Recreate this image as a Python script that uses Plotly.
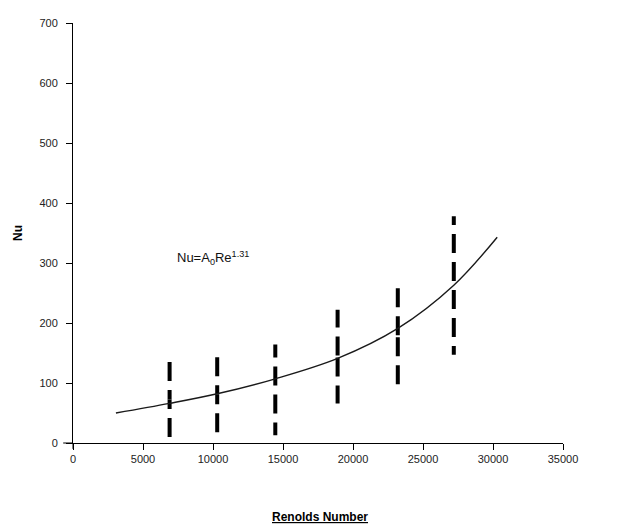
import plotly.graph_objects as go

# Error-bar style ranges (dashed vertical bars)
bar_re = [6900, 10300, 14450, 18900, 23200, 27200]
bar_low = [5, 15, 13, 66, 87, 147]
bar_high = [140, 146, 164, 222, 269, 378]

# Fitted curve
curve_re = [3065, 6900, 10300, 14450, 18900, 23200, 27200, 30300]
curve_nu = [50, 66, 82, 107, 141, 191, 263, 343]

x_ticks = [0, 5000, 10000, 15000, 20000, 25000, 30000, 35000]
y_ticks = [0, 100, 200, 300, 400, 500, 600, 700]

# dash phase at the middle of each bar (style only)
center_phase = ["dash", "dash", "gap", "pair", "pair", "gap"]
REP = ",19px,9px" * 8
PATTERNS = {
    "dash": "9.5px,9px" + REP,
    "gap": "0px,4.5px" + REP,
    "pair": "0px,1px" + REP,
}

fig = go.Figure()

for xv, lo, hi, ph in zip(bar_re, bar_low, bar_high, center_phase):
    mid = (lo + hi) / 2
    for end in (hi, lo):
        fig.add_trace(go.Scatter(
            x=[xv, xv], y=[mid, end], mode="lines",
            line=dict(color="black", width=4, dash=PATTERNS[ph]),
            showlegend=False, hoverinfo="skip"))

fig.add_trace(go.Scatter(
    x=curve_re, y=curve_nu, mode="lines",
    line=dict(color="#1a1a1a", width=1.4, shape="spline", smoothing=1.0),
    showlegend=False))

fig.add_annotation(x=7300, y=309, xref="x", yref="y", xanchor="left",
                   text="Nu=A<sub>0</sub>Re<sup>1.31</sup>", showarrow=False,
                   font=dict(family="Liberation Sans, Arial", size=13, color="#111"))

fig.add_annotation(x=0.505, y=-0.176, xref="paper", yref="paper", yanchor="middle",
                   text="<b><u>Renolds Number</u></b>", showarrow=False,
                   font=dict(family="Liberation Sans, Arial", size=12, color="black"))

# small axis line extensions
fig.add_shape(type="line", xref="paper", yref="paper", x0=-0.02, x1=0, y0=0, y1=0,
              line=dict(color="black", width=1))
fig.add_shape(type="line", xref="paper", yref="paper", x0=0, x1=0, y0=-0.014, y1=0,
              line=dict(color="black", width=1))

fig.update_layout(
    width=616, height=519,
    margin=dict(l=64, r=61, t=9, b=84),
    paper_bgcolor="white", plot_bgcolor="white",
    font=dict(family="Liberation Sans, Arial", size=11, color="#222"),
    xaxis=dict(range=[0, 35000], tickvals=x_ticks, tickformat="d",
               showline=True, linecolor="black", linewidth=1,
               ticks="outside", ticklen=6, tickcolor="black",
               showgrid=False, zeroline=False),
    yaxis=dict(range=[0, 700], tickvals=y_ticks, tickformat="d",
               showline=True, linecolor="black", linewidth=1,
               ticks="outside", ticklen=6, tickcolor="black",
               ticklabelstandoff=6,
               showgrid=False, zeroline=False,
               title=dict(text="<b>Nu</b>", standoff=14,
                          font=dict(size=12, color="black"))),
)

fig.write_html("out.html")
